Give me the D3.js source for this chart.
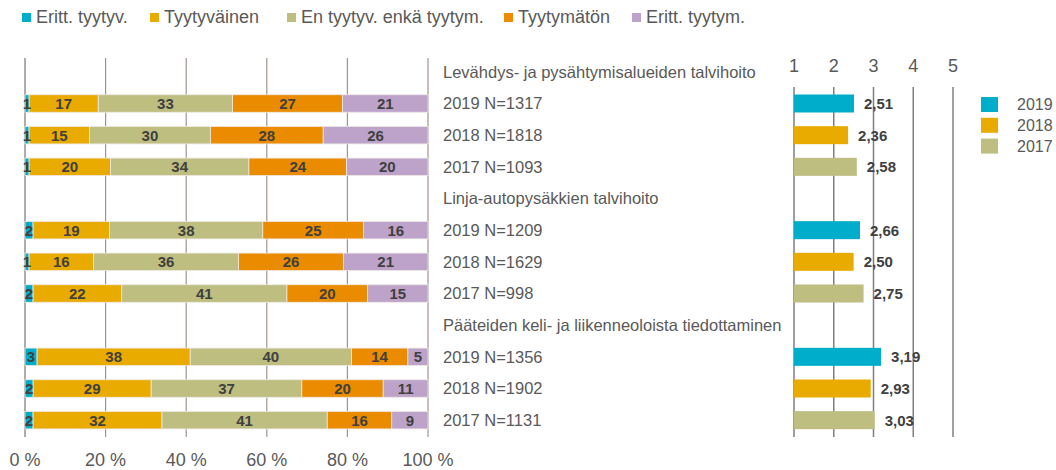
<!DOCTYPE html>
<html lang="fi">
<head>
<meta charset="utf-8">
<script src="https://d3js.org/d3.v7.min.js"></script>
<style>
  body { margin: 0; background: #fff; font-family: Arial, "Liberation Sans", sans-serif; }
</style>
</head>
<body>
<script>
// answer categories (legend order)
var categories = ["Eritt. tyytyv.", "Tyytyväinen", "En tyytyv. enkä tyytym.", "Tyytymätön", "Eritt. tyytym."];
var catColors = ["#00aecb", "#e9ab00", "#bdbe80", "#eb8b00", "#bda3ca"];

var groupTitles = [
  "Levähdys- ja pysähtymisalueiden talvihoito",
  "Linja-autopysäkkien talvihoito",
  "Pääteiden keli- ja liikenneoloista tiedottaminen"
];
var years = ["2019", "2018", "2017"];
var yearColors = ["#00aecb", "#e9ab00", "#bdbe80"];
var counts = [[1317, 1818, 1093], [1209, 1629, 998], [1356, 1902, 1131]];

// percent shares per row, same order as categories
var shares = [
  [[1, 17, 33, 27, 21], [1, 15, 30, 28, 26], [1, 20, 34, 24, 20]],
  [[2, 19, 38, 25, 16], [1, 16, 36, 26, 21], [2, 22, 41, 20, 15]],
  [[3, 38, 40, 14, 5], [2, 29, 37, 20, 11], [2, 32, 41, 16, 9]]
];
// mean scores (1..5)
var means = [[2.51, 2.36, 2.58], [2.66, 2.50, 2.75], [3.19, 2.93, 3.03]];

var pctTicks = [0, 20, 40, 60, 80, 100];
var meanTicks = [1, 2, 3, 4, 5];

var width = 1056, height = 470;
var svg = d3.select("body").append("svg")
  .attr("width", width).attr("height", height);

// build the 12 row slots: a header then three year rows per group
var rows = [];
groupTitles.forEach(function(t, g) {
  rows.push({ type: "head", label: t });
  years.forEach(function(y, i) {
    rows.push({ type: "bar", g: g, i: i, year: y,
      label: y + " N=" + counts[g][i], vals: shares[g][i], mean: means[g][i] });
  });
});

var y = d3.scaleBand().domain(d3.range(rows.length)).range([56, 436]).paddingInner(0.45).paddingOuter(0.225);
var rowStep = y.step();
function cy(i) { return 56 + rowStep * (i + 0.5); }

var x = d3.scaleLinear().domain([0, 100]).range([25, 428]);
var xm = d3.scaleLinear().domain([1, 5]).range([794, 953]);

// left gridlines
svg.append("g").selectAll("line").data(pctTicks).enter().append("line")
  .attr("x1", function(d) { return x(d); }).attr("x2", function(d) { return x(d); })
  .attr("y1", 58).attr("y2", 437)
  .attr("stroke", function(d) { return d === 0 ? "#7f7570" : "#a0948d"; })
  .attr("stroke-width", 1.2);

svg.append("g").selectAll("text").data(pctTicks).enter().append("text")
  .attr("x", function(d) { return x(d); }).attr("y", 466)
  .attr("text-anchor", "middle").attr("font-size", 18).attr("fill", "#595959")
  .text(function(d) { return d + " %"; });

// stacked bars
var barRows = rows.map(function(r, i) { r.idx = i; return r; }).filter(function(r) { return r.type === "bar"; });
var bh = 17.5;

barRows.forEach(function(r) {
  var total = d3.sum(r.vals), acc = 0;
  var segs = r.vals.map(function(v, k) {
    var s = { k: k, v: v, x0: acc / total * 100 };
    acc += v;
    s.x1 = acc / total * 100;
    return s;
  });
  var g = svg.append("g");
  g.selectAll("rect").data(segs).enter().append("rect")
    .attr("x", function(d) { return x(d.x0); })
    .attr("width", function(d) { return x(d.x1) - x(d.x0); })
    .attr("y", cy(r.idx) - bh / 2).attr("height", bh)
    .attr("fill", function(d) { return catColors[d.k]; })
    .attr("stroke", "#efe9e4").attr("stroke-width", 0.8);
  g.selectAll("text").data(segs).enter().append("text")
    .attr("x", function(d) { return (x(d.x0) + x(d.x1)) / 2; })
    .attr("y", cy(r.idx)).attr("dy", "0.36em")
    .attr("text-anchor", "middle").attr("font-size", 15).attr("font-weight", "bold")
    .attr("fill", "#404040")
    .text(function(d) { return d.v; });
});

// row labels in the middle
svg.append("g").selectAll("text").data(rows).enter().append("text")
  .attr("x", 443).attr("y", function(d, i) { return cy(i); }).attr("dy", "0.36em")
  .attr("font-size", 16.5).attr("fill", "#595959")
  .text(function(d) { return d.label; });

// right: mean chart
svg.append("g").selectAll("line").data(meanTicks).enter().append("line")
  .attr("x1", function(d) { return xm(d); }).attr("x2", function(d) { return xm(d); })
  .attr("y1", 87).attr("y2", 437)
  .attr("stroke", "#7f7f7f").attr("stroke-width", 1.5);

svg.append("g").selectAll("text").data(meanTicks).enter().append("text")
  .attr("x", function(d) { return xm(d); }).attr("y", 72)
  .attr("text-anchor", "middle").attr("font-size", 18).attr("fill", "#595959")
  .text(function(d) { return d; });

var mb = svg.append("g");
mb.selectAll("rect").data(barRows).enter().append("rect")
  .attr("x", xm(1)).attr("y", function(d) { return cy(d.idx) - 9; })
  .attr("width", function(d) { return xm(d.mean) - xm(1); }).attr("height", 18)
  .attr("fill", function(d) { return yearColors[d.i]; });
mb.selectAll("text").data(barRows).enter().append("text")
  .attr("x", function(d) { return xm(d.mean) + 10; })
  .attr("y", function(d) { return cy(d.idx); }).attr("dy", "0.36em")
  .attr("font-size", 15).attr("font-weight", "bold").attr("fill", "#404040")
  .text(function(d) { return d3.format(".2f")(d.mean).replace(".", ","); });

// right legend
var rl = svg.append("g").selectAll("g").data(years).enter().append("g")
  .attr("transform", function(d, i) { return "translate(981," + (97 + i * 20.8) + ")"; });
rl.append("rect").attr("width", 17).attr("height", 15)
  .attr("fill", function(d, i) { return yearColors[i]; });
rl.append("text").attr("x", 36).attr("y", 7.5).attr("dy", "0.36em")
  .attr("font-size", 16).attr("fill", "#595959").text(function(d) { return d; });

// top legend
var legX = [22, 150, 287, 504, 632];
var tl = svg.append("g").selectAll("g").data(categories).enter().append("g")
  .attr("transform", function(d, i) { return "translate(" + legX[i] + ",0)"; });
tl.append("rect").attr("y", 13).attr("width", 9).attr("height", 9)
  .attr("fill", function(d, i) { return catColors[i]; });
tl.append("text").attr("x", 14).attr("y", 23)
  .attr("font-size", 18).attr("fill", "#595959").text(function(d) { return d; });
</script>
</body>
</html>
